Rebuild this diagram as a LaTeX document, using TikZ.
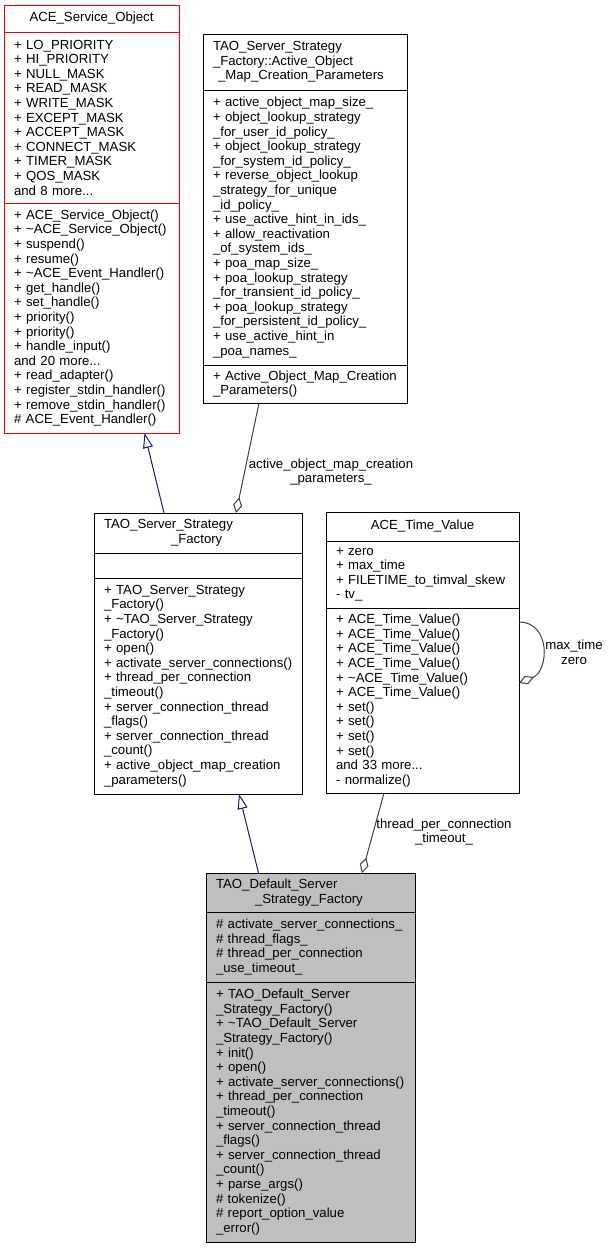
\documentclass[tikz,border=0pt]{standalone}
\usepackage{fontspec}
\setmainfont{Liberation Sans}
\usetikzlibrary{positioning}
\usetikzlibrary{arrows.meta}
\definecolor{navy}{HTML}{191970}
\definecolor{edgegray}{HTML}{404040}
\definecolor{boxgray}{HTML}{BFBFBF}
\hyphenpenalty=10000
\exhyphenpenalty=10000

\begin{document}
\begin{tikzpicture}[x=1pt,y=1pt]
					\tikzstyle{box}=[draw,rectangle,fill=white,line width=1pt,outer sep=0pt,inner xsep=10pt,inner ysep=0pt,align=left,font=\fontsize{13.2}{14.6}\selectfont]
					\tikzstyle{lbl}=[inner sep=0pt,align=center,font=\fontsize{13.2}{14.6}\selectfont]
					\tikzstyle{inherit}=[draw=navy,line width=1pt,-{Triangle[open,length=15pt,width=10pt]}]
					\tikzstyle{aggr}=[draw=edgegray,line width=1pt,-{Diamond[open,length=16pt,width=9pt]}]
					\useasboundingbox (0,0) rectangle (609,-1248);
					% ACE_Service_Object
					\node (svc) [box,draw=red,text width=155pt,align=center,minimum height=27pt,anchor=north west] at (4,-5) {ACE\_Service\_Object};
					\node (svc-a) [box,draw=red,text width=155pt,minimum height=171pt,below=0pt of svc] {+~LO\_PRIORITY\\+~HI\_PRIORITY\\+~NULL\_MASK\\+~READ\_MASK\\+~WRITE\_MASK\\+~EXCEPT\_MASK\\+~ACCEPT\_MASK\\+~CONNECT\_MASK\\+~TIMER\_MASK\\+~QOS\_MASK\\and 8 more...};
					\node (svc-m) [box,draw=red,text width=155pt,minimum height=230pt,below=0pt of svc-a] {+~ACE\_Service\_Object()\\+~\textasciitilde ACE\_Service\_Object()\\+~suspend()\\+~resume()\\+~\textasciitilde ACE\_Event\_Handler()\\+~get\_handle()\\+~set\_handle()\\+~priority()\\+~priority()\\+~handle\_input()\\and 20 more...\\+~read\_adapter()\\+~register\_stdin\_handler()\\+~remove\_stdin\_handler()\\\#~ACE\_Event\_Handler()};
					% Active_Object_Map_Creation_Parameters
					\node (amcp) [box,text width=184pt,minimum height=56pt,anchor=north west] at (203,-34) {TAO\_Server\_Strategy\\\_Factory::Active\_Object\\\hspace*{5pt}\_Map\_Creation\_Parameters};
					\node (amcp-a) [box,text width=184pt,minimum height=275pt,below=0pt of amcp] {+~active\_object\_map\_size\_\\+~object\_lookup\_strategy\\\_for\_user\_id\_policy\_\\+~object\_lookup\_strategy\\\_for\_system\_id\_policy\_\\+~reverse\_object\_lookup\\\_strategy\_for\_unique\\\_id\_policy\_\\+~use\_active\_hint\_in\_ids\_\\+~allow\_reactivation\\\_of\_system\_ids\_\\+~poa\_map\_size\_\\+~poa\_lookup\_strategy\\\_for\_transient\_id\_policy\_\\+~poa\_lookup\_strategy\\\_for\_persistent\_id\_policy\_\\+~use\_active\_hint\_in\\\_poa\_names\_};
					\node (amcp-m) [box,text width=184pt,minimum height=38pt,below=0pt of amcp-a] {+~Active\_Object\_Map\_Creation\\\_Parameters()};
					% TAO_Server_Strategy_Factory
					\node (fac) [box,text width=188pt,minimum height=40pt,anchor=north west] at (94,-513) {TAO\_Server\_Strategy\\\hspace*{67pt}\_Factory};
					\node (fac-a) [box,text width=188pt,minimum height=25pt,below=0pt of fac] {};
					\node (fac-m) [box,text width=188pt,minimum height=216pt,below=0pt of fac-a] {+~TAO\_Server\_Strategy\\\_Factory()\\+~\textasciitilde TAO\_Server\_Strategy\\\_Factory()\\+~open()\\+~activate\_server\_connections()\\+~thread\_per\_connection\\\_timeout()\\+~server\_connection\_thread\\\_flags()\\+~server\_connection\_thread\\\_count()\\+~active\_object\_map\_creation\\\_parameters()};
					% ACE_Time_Value
					\node (tv) [box,text width=173pt,align=center,minimum height=29pt,anchor=north west] at (326,-512) {ACE\_Time\_Value};
					\node (tv-a) [box,text width=173pt,minimum height=67pt,below=0pt of tv] {+~zero\\+~max\_time\\+~FILETIME\_to\_timval\_skew\\-~tv\_};
					\node (tv-m) [box,text width=173pt,minimum height=185pt,below=0pt of tv-a] {+~ACE\_Time\_Value()\\+~ACE\_Time\_Value()\\+~ACE\_Time\_Value()\\+~ACE\_Time\_Value()\\+~\textasciitilde ACE\_Time\_Value()\\+~ACE\_Time\_Value()\\+~set()\\+~set()\\+~set()\\+~set()\\and 33 more...\\-~normalize()};
					% TAO_Default_Server_Strategy_Factory
					\node (def) [box,fill=boxgray,text width=189pt,minimum height=39pt,anchor=north west] at (206,-873) {TAO\_Default\_Server\\\hspace*{39pt}\_Strategy\_Factory};
					\node (def-a) [box,fill=boxgray,text width=189pt,minimum height=70pt,below=0pt of def] {\#~activate\_server\_connections\_\\\#~thread\_flags\_\\\#~thread\_per\_connection\\\_use\_timeout\_};
					\node (def-m) [box,fill=boxgray,text width=189pt,minimum height=260pt,below=0pt of def-a] {+~TAO\_Default\_Server\\\_Strategy\_Factory()\\+~\textasciitilde TAO\_Default\_Server\\\_Strategy\_Factory()\\+~init()\\+~open()\\+~activate\_server\_connections()\\+~thread\_per\_connection\\\_timeout()\\+~server\_connection\_thread\\\_flags()\\+~server\_connection\_thread\\\_count()\\+~parse\_args()\\\#~tokenize()\\\#~report\_option\_value\\\_error()};
					% edges
					\draw[inherit] ([xshift=-34pt]fac.north) -- ([xshift=53pt]svc-m.south);
					\draw[aggr] ([xshift=-46pt]amcp-m.south) -- ([xshift=38pt]fac.north);
					\node (lbl-amcp) [lbl] at (331,-472) {active\_object\_map\_creation\\\_parameters\_};
					\draw[inherit] ([xshift=-52pt]def.north) -- ([xshift=41pt]fac-m.south);
					\draw[aggr] ([xshift=-38.5pt]tv-m.south) -- ([xshift=51.5pt]def.north);
					\node (lbl-tmo) [lbl] at (444,-832) {thread\_per\_connection\\\_timeout\_};
					\draw[aggr] ([yshift=78.5pt]tv-m.east) .. controls +(32,0) and +(30,12) .. ([yshift=17.5pt]tv-m.east);
					\node (lbl-tv) [lbl] at (574,-652) {max\_time\\zero};
				\end{tikzpicture}
\end{document}
